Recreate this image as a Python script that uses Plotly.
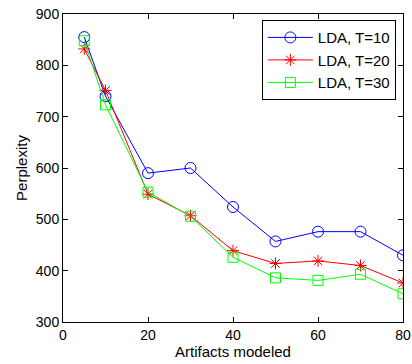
import plotly.graph_objects as go

x_vals = [5, 10, 20, 30, 40, 50, 60, 70, 80]
t10 = [855, 740, 590, 600, 524, 457, 476, 476, 430]
t20 = [832, 751, 549, 507, 439, 414, 419, 410, 376]
t30 = [848, 723, 553, 506, 426, 386, 381, 393, 355]
names = ["LDA, T=10", "LDA, T=20", "LDA, T=30"]
colors = ["#0000ff", "#ff0000", "#00ff00"]
symbols = ["circle-open", "asterisk-open", "square-open"]
sizes = [11, 10, 10]

FONT = "Liberation Sans, Arial"

fig = go.Figure()
for y, n, c, s, sz in zip([t10, t20, t30], names, colors, symbols, sizes):
    fig.add_trace(go.Scatter(
        x=x_vals, y=y, name=n, mode="lines+markers",
        line=dict(color=c, width=1),
        marker=dict(symbol=s, size=sz, color=c, line=dict(color=c, width=1)),
    ))

axis_common = dict(
    showgrid=False, zeroline=False, showline=True, linecolor="black", linewidth=1,
    mirror="ticks", ticks="inside", ticklen=5, tickcolor="black", automargin=False,
    tickfont=dict(family=FONT, size=14, color="black"),
)
fig.update_xaxes(range=[0, 80], tickvals=[0, 20, 40, 60, 80],
                 title=dict(text="Artifacts modeled", standoff=2,
                            font=dict(family=FONT, size=15, color="black")),
                 **axis_common)
fig.update_yaxes(range=[300, 900], tickvals=[300, 400, 500, 600, 700, 800, 900],
                 title=dict(text="Perplexity", standoff=4,
                            font=dict(family=FONT, size=15, color="black")),
                 **axis_common)

fig.update_layout(
    width=412, height=364,
    margin=dict(l=63, r=9, t=14, b=42, autoexpand=False),
    plot_bgcolor="white", paper_bgcolor="white",
    font=dict(family=FONT, size=13, color="black"),
    legend=dict(x=0.979, y=0.98, xanchor="right", yanchor="top",
                bordercolor="black", borderwidth=1, bgcolor="white",
                font=dict(size=15), tracegroupgap=0, itemwidth=45),
)
fig.write_html("out.html", config={"displayModeBar": False},
               post_script="document.body.style.margin='0';document.body.style.overflow='hidden';")
